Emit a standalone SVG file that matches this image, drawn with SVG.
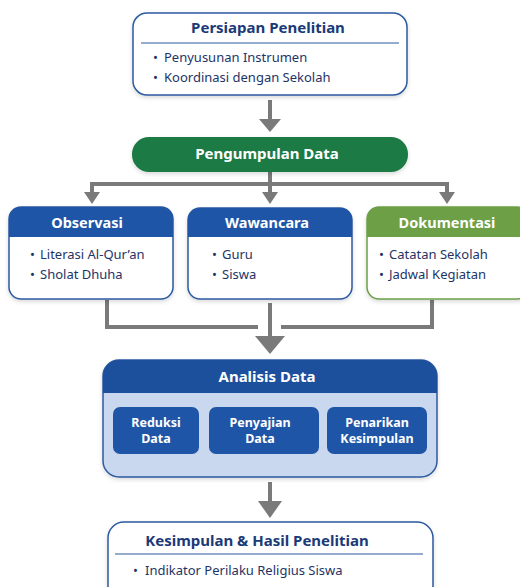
<svg xmlns="http://www.w3.org/2000/svg" width="520" height="587" viewBox="0 0 520 587">
<defs>
<style>
.t{font-family:"Noto Sans","Open Sans",sans-serif;}
.title{font-weight:700;font-size:15px;fill:#1b3a78;text-anchor:middle;}
.wt{font-weight:700;font-size:14.5px;fill:#ffffff;text-anchor:middle;}
.big{font-size:15px;}
.it{font-size:13px;fill:#1e3466;}
.st{font-weight:700;font-size:12.5px;fill:#ffffff;text-anchor:middle;}
.card{fill:#ffffff;stroke:#2c5aa0;stroke-width:1.5;}
.gcard{fill:#ffffff;stroke:#6d9e48;stroke-width:1.5;}
.hdr{fill:#1f55a6;}
.ghdr{fill:#6c9f46;}
.div{stroke:#2c5aa0;stroke-width:1.2;}
.ln{fill:none;stroke:#7a7a7a;stroke-width:4;}
.ah{fill:#7a7a7a;}
</style>
<filter id="sh" x="-10%" y="-10%" width="120%" height="130%">
<feDropShadow dx="0" dy="2" stdDeviation="2" flood-color="#000" flood-opacity="0.15"/>
</filter>
</defs>
<rect width="520" height="587" fill="#ffffff"/>

<g id="connectors">
<line class="ln" x1="270" y1="100" x2="270" y2="120" stroke-width="6"/>
<polygon class="ah" points="259,119 281,119 270,132"/>
<line class="ln" x1="270" y1="172" x2="270" y2="192"/>
<polyline class="ln" points="92,194 92,184 447,184 447,194"/>
<polygon class="ah" points="84,192 100,192 92,204"/>
<polygon class="ah" points="262,192 278,192 270,204"/>
<polygon class="ah" points="439,192 455,192 447,204"/>
<polyline class="ln" points="107,300 107,327 258,327"/>
<polyline class="ln" points="432,300 432,327 281,327"/>
<line class="ln" x1="270" y1="303" x2="270" y2="337" stroke-width="5"/>
<polygon class="ah" points="255,336 285,336 270,354"/>
<line class="ln" x1="270" y1="482" x2="270" y2="502" stroke-width="6"/>
<polygon class="ah" points="258,501 282,501 270,518"/>
</g>

<g id="persiapan" class="t">
<rect class="card" x="133" y="13" width="274" height="82" rx="14" filter="url(#sh)"/>
<text class="title" x="268" y="33">Persiapan Penelitian</text>
<line class="div" x1="141" y1="43" x2="399" y2="43"/>
<text class="it" y="62"><tspan x="153">•</tspan><tspan x="164">Penyusunan Instrumen</tspan></text>
<text class="it" y="82"><tspan x="153">•</tspan><tspan x="164">Koordinasi dengan Sekolah</tspan></text>
</g>

<g id="pengumpulan" class="t">
<rect x="132" y="137" width="276" height="35" rx="17" fill="#1e7a45" filter="url(#sh)"/>
<text class="wt big" x="267" y="159">Pengumpulan Data</text>
</g>

<g id="observasi" class="t">
<rect class="card" x="9" y="207" width="164" height="92" rx="12" filter="url(#sh)"/>
<path class="hdr" d="M9,237 V219 A12,12 0 0 1 21,207 H161 A12,12 0 0 1 173,219 V237 Z"/>
<text class="wt" x="87" y="228">Observasi</text>
<text class="it" y="259"><tspan x="30">•</tspan><tspan x="40">Literasi Al-Qur’an</tspan></text>
<text class="it" y="279"><tspan x="30">•</tspan><tspan x="40">Sholat Dhuha</tspan></text>
</g>

<g id="wawancara" class="t">
<rect class="card" x="188" y="208" width="164" height="91" rx="12" filter="url(#sh)"/>
<path class="hdr" d="M188,237 V220 A12,12 0 0 1 200,208 H340 A12,12 0 0 1 352,220 V237 Z"/>
<text class="wt" x="267" y="228">Wawancara</text>
<text class="it" y="259"><tspan x="212">•</tspan><tspan x="222">Guru</tspan></text>
<text class="it" y="279"><tspan x="212">•</tspan><tspan x="222">Siswa</tspan></text>
</g>

<g id="dokumentasi" class="t">
<rect class="gcard" x="367" y="207" width="162" height="92" rx="12" filter="url(#sh)"/>
<path class="ghdr" d="M367,237 V219 A12,12 0 0 1 379,207 H517 A12,12 0 0 1 529,219 V237 Z"/>
<text class="wt" x="447" y="228">Dokumentasi</text>
<text class="it" y="259"><tspan x="379">•</tspan><tspan x="389">Catatan Sekolah</tspan></text>
<text class="it" y="279"><tspan x="379">•</tspan><tspan x="389">Jadwal Kegiatan</tspan></text>
</g>

<g id="analisis" class="t">
<rect x="103" y="360" width="334" height="117" rx="16" fill="#c9d8ef" stroke="#2c5aa0" stroke-width="1.5" filter="url(#sh)"/>
<path fill="#1c4f9c" d="M103,393 V376 A16,16 0 0 1 119,360 H421 A16,16 0 0 1 437,376 V393 Z"/>
<text class="wt big" x="267" y="382">Analisis Data</text>
<rect class="hdr" x="113" y="407" width="86" height="47" rx="7"/>
<text class="st" x="156" y="427">Reduksi</text>
<text class="st" x="156" y="443">Data</text>
<rect class="hdr" x="209" y="407" width="110" height="47" rx="7"/>
<text class="st" x="260" y="427">Penyajian</text>
<text class="st" x="260" y="443">Data</text>
<rect class="hdr" x="327" y="407" width="100" height="47" rx="7"/>
<text class="st" x="377" y="427">Penarikan</text>
<text class="st" x="377" y="443">Kesimpulan</text>
</g>

<g id="kesimpulan" class="t">
<rect class="card" x="108" y="522" width="325" height="80" rx="16" filter="url(#sh)"/>
<text class="title" x="257" y="546">Kesimpulan &amp; Hasil Penelitian</text>
<line class="div" x1="115" y1="554" x2="423" y2="554"/>
<text class="it" y="575"><tspan x="133">•</tspan><tspan x="145">Indikator Perilaku Religius Siswa</tspan></text>
</g>
</svg>
